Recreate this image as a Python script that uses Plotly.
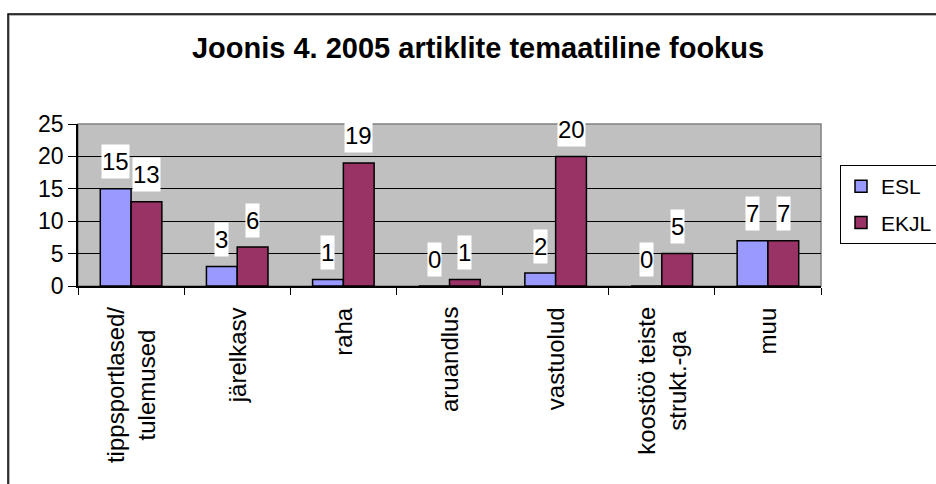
import plotly.graph_objects as go

# andmed
kategooriad = ["tippsportlased/<br>tulemused", "järelkasv", "raha", "aruandlus",
               "vastuolud", "koostöö teiste<br>strukt.-ga", "muu"]
esl = [15, 3, 1, 0, 2, 0, 7]
ekjl = [13, 6, 19, 1, 20, 5, 7]
y_ticks = [0, 5, 10, 15, 20, 25]

FONT = "Liberation Sans, Arial, sans-serif"
W, H = 936, 484
L, R, T, B = 78, 821, 124, 286   # plot area in pixels

fig = go.Figure()
fig.add_trace(go.Bar(name="ESL", x=kategooriad, y=esl, legendgroup="a",
                     marker=dict(color="#9999ff", line=dict(color="black", width=1.5))))
fig.add_trace(go.Bar(name="EKJL", x=kategooriad, y=ekjl, legendgroup="b",
                     marker=dict(color="#993366", line=dict(color="black", width=1.5))))

# andmesildid valge taustaga
grupp = (R - L) / len(kategooriad) * 0.58
nihe = grupp / 4
for seeria, dx in ((esl, -nihe), (ekjl, nihe)):
    for k, v in zip(kategooriad, seeria):
        fig.add_annotation(x=k, y=v, xref="x", yref="y", text=str(v),
                           showarrow=False, xshift=dx, yshift=27,
                           yanchor="middle", bgcolor="white", borderpad=0, height=33,
                           font=dict(family=FONT, size=24, color="black"))

# kategooriate sildid (pööratud, keskjoondatud)
for k in kategooriad:
    fig.add_annotation(x=k, y=0, xref="x", yref="paper", text=k, showarrow=False,
                       textangle=-90, yanchor="top", xanchor="center", yshift=-19,
                       align="center", font=dict(family=FONT, size=24, color="black"))

# joonise raam
def px_x(p):
    return (p - L) / (R - L)

def px_y(p):
    return (B - p) / (B - T)

fig.add_shape(type="rect", xref="paper", yref="paper",
              x0=px_x(9), x1=px_x(960), y0=px_y(500), y1=px_y(15),
              line=dict(color="#a0a0a0", width=1.5), fillcolor="rgba(0,0,0,0)")
fig.add_shape(type="rect", xref="paper", yref="paper",
              x0=px_x(8), x1=px_x(960), y0=px_y(500), y1=px_y(14),
              line=dict(color="black", width=1.5), fillcolor="rgba(0,0,0,0)")
# graafikuala hall raam
fig.add_shape(type="rect", xref="x domain", yref="y domain", x0=0, x1=1, y0=0, y1=1,
              line=dict(color="#808080", width=1.5), layer="below")

fig.update_xaxes(showticklabels=False, ticks="outside", tickson="boundaries",
                 ticklen=7, tickcolor="black", showline=True, linecolor="black",
                 linewidth=1.5, showgrid=False)
fig.update_yaxes(range=[0, 25], tickvals=y_ticks, ticks="outside", ticklen=8,
                 tickcolor="black", showline=True, linecolor="black", linewidth=1.5,
                 showgrid=True, gridcolor="black", gridwidth=1, zeroline=False,
                 tickfont=dict(family=FONT, size=23, color="black"))

fig.update_layout(
    width=W, height=H,
    margin=dict(l=L, r=W - R, t=T, b=H - B, autoexpand=False),
    barmode="group", bargap=0.42, bargroupgap=0,
    plot_bgcolor="#c0c0c0", paper_bgcolor="white",
    title=dict(text="<b>Joonis 4. 2005 artiklite temaatiline fookus</b>",
               xref="container", yref="container", x=478 / W, y=1 - 48 / H,
               xanchor="center", yanchor="middle",
               font=dict(family=FONT, size=29, color="black")),
    legend=dict(xref="container", yref="container", x=840 / W, y=1 - 165 / H,
                xanchor="left", yanchor="top", bgcolor="white",
                bordercolor="black", borderwidth=1,
                font=dict(family=FONT, size=21, color="black"),
                tracegroupgap=6, traceorder="grouped"),
    showlegend=True,
)

fig.write_html("out.html", config={"displayModeBar": False},
               post_script="document.body.style.margin='0';")
